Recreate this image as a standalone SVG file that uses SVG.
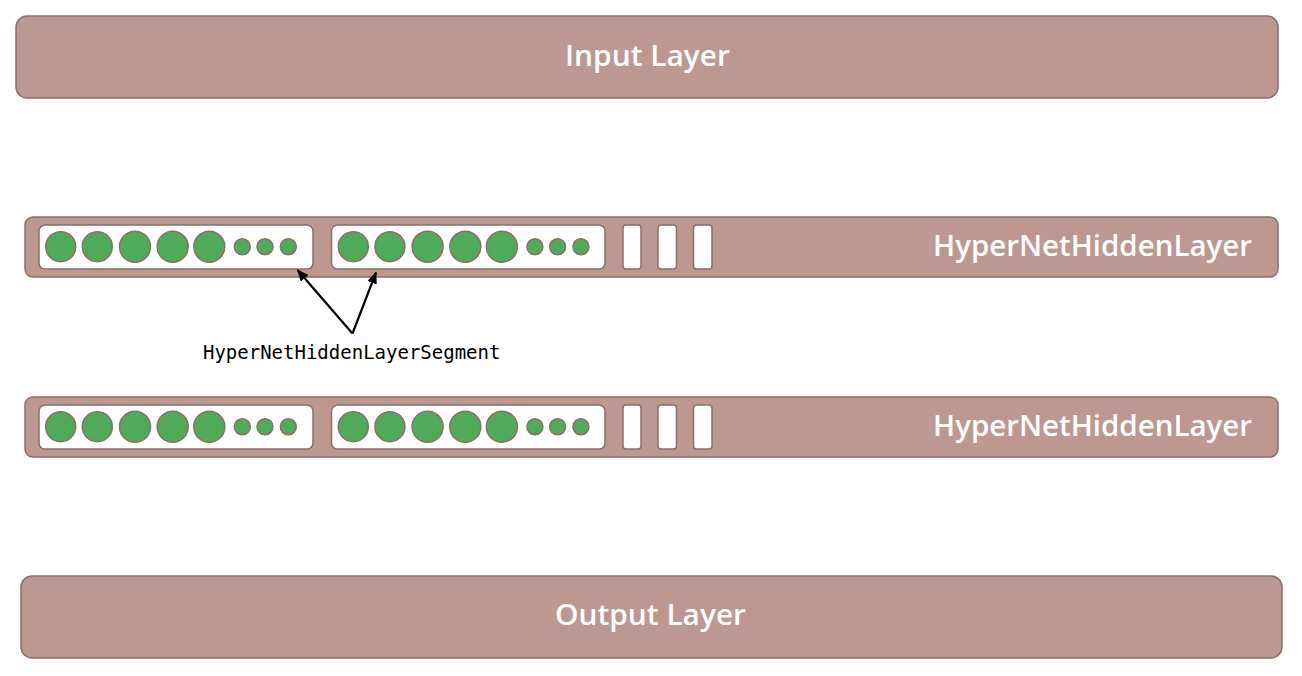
<svg xmlns="http://www.w3.org/2000/svg" width="1302" height="676" viewBox="0 0 1302 676">
<defs>
<style>
.layer{fill:#bc9891;stroke:#8b6e6a;stroke-width:1.5}
.seg{fill:#ffffff;stroke:#8b6e6a;stroke-width:1.5}
.bar{fill:#ffffff;stroke:#8b6e6a;stroke-width:1.5}
.n{fill:#4fab5a;stroke:#8b6e6a;stroke-width:1.5}
.lt{font-family:"Open Sans","Lato",sans-serif;font-size:29px;font-weight:600;fill:#ffffff}
.mono{font-family:"DejaVu Sans Mono",monospace;font-size:19px;fill:#000000}
.conn{stroke:#000000;stroke-width:2.2;fill:none}
</style>
<marker id="ah2" viewBox="0 0 12 10" refX="11" refY="5" markerWidth="12" markerHeight="10" markerUnits="userSpaceOnUse" orient="auto">
<path d="M0,0 L12,5 L0,10 z" fill="#000000"/>
</marker>
<g id="segtpl">
<circle class="n" cx="0" cy="0" r="15"/>
<circle class="n" cx="36.6" cy="0" r="15"/>
<circle class="n" cx="74.3" cy="0" r="15.5"/>
<circle class="n" cx="112" cy="0" r="15.5"/>
<circle class="n" cx="148.6" cy="0" r="15.5"/>
<circle class="n" cx="181.6" cy="0" r="8"/>
<circle class="n" cx="204.3" cy="0" r="8"/>
<circle class="n" cx="227.6" cy="0" r="8"/>
</g>
</defs>
<rect width="1302" height="676" fill="#ffffff"/>

<g id="input-layer">
<rect class="layer" x="16" y="16" width="1262" height="82" rx="11"/>
<text class="lt" x="647.5" y="65.5" text-anchor="middle" textLength="165" lengthAdjust="spacingAndGlyphs">Input Layer</text>
</g>

<g id="hidden-layer-1">
<rect class="layer" x="25" y="217" width="1253" height="60" rx="8"/>
<g id="h1-seg1">
<rect class="seg" x="39" y="225" width="274" height="44" rx="6"/>
<use href="#segtpl" x="60.7" y="246.7"/>
</g>
<g id="h1-seg2">
<rect class="seg" x="331.5" y="225" width="273.5" height="44" rx="6"/>
<use href="#segtpl" x="353.3" y="246.7"/>
</g>
<rect class="bar" x="623" y="225" width="18" height="44" rx="3"/>
<rect class="bar" x="658" y="225" width="18.5" height="44" rx="3"/>
<rect class="bar" x="693.5" y="225" width="18.5" height="44" rx="3"/>
<text class="lt" x="1252" y="255.7" text-anchor="end" textLength="319" lengthAdjust="spacingAndGlyphs">HyperNetHiddenLayer</text>
</g>

<g id="hidden-layer-2">
<rect class="layer" x="25" y="397" width="1253" height="60" rx="8"/>
<g id="h2-seg1">
<rect class="seg" x="39" y="405" width="274" height="44" rx="6"/>
<use href="#segtpl" x="60.7" y="426.7"/>
</g>
<g id="h2-seg2">
<rect class="seg" x="331.5" y="405" width="273.5" height="44" rx="6"/>
<use href="#segtpl" x="353.3" y="426.7"/>
</g>
<rect class="bar" x="623" y="405" width="18" height="44" rx="3"/>
<rect class="bar" x="658" y="405" width="18.5" height="44" rx="3"/>
<rect class="bar" x="693.5" y="405" width="18.5" height="44" rx="3"/>
<text class="lt" x="1252" y="435.7" text-anchor="end" textLength="319" lengthAdjust="spacingAndGlyphs">HyperNetHiddenLayer</text>
</g>

<g id="output-layer">
<rect class="layer" x="21" y="576" width="1261" height="82" rx="11"/>
<text class="lt" x="650.5" y="625" text-anchor="middle" textLength="191" lengthAdjust="spacingAndGlyphs">Output Layer</text>
</g>

<g id="segment-label">
<text class="mono" x="351.7" y="359.3" text-anchor="middle">HyperNetHiddenLayerSegment</text>
</g>

<g id="connectors">
<line class="conn" x1="352.5" y1="333.5" x2="297.5" y2="270" marker-end="url(#ah2)"/>
<line class="conn" x1="352.5" y1="333.5" x2="376" y2="272.5" marker-end="url(#ah2)"/>
</g>
</svg>
